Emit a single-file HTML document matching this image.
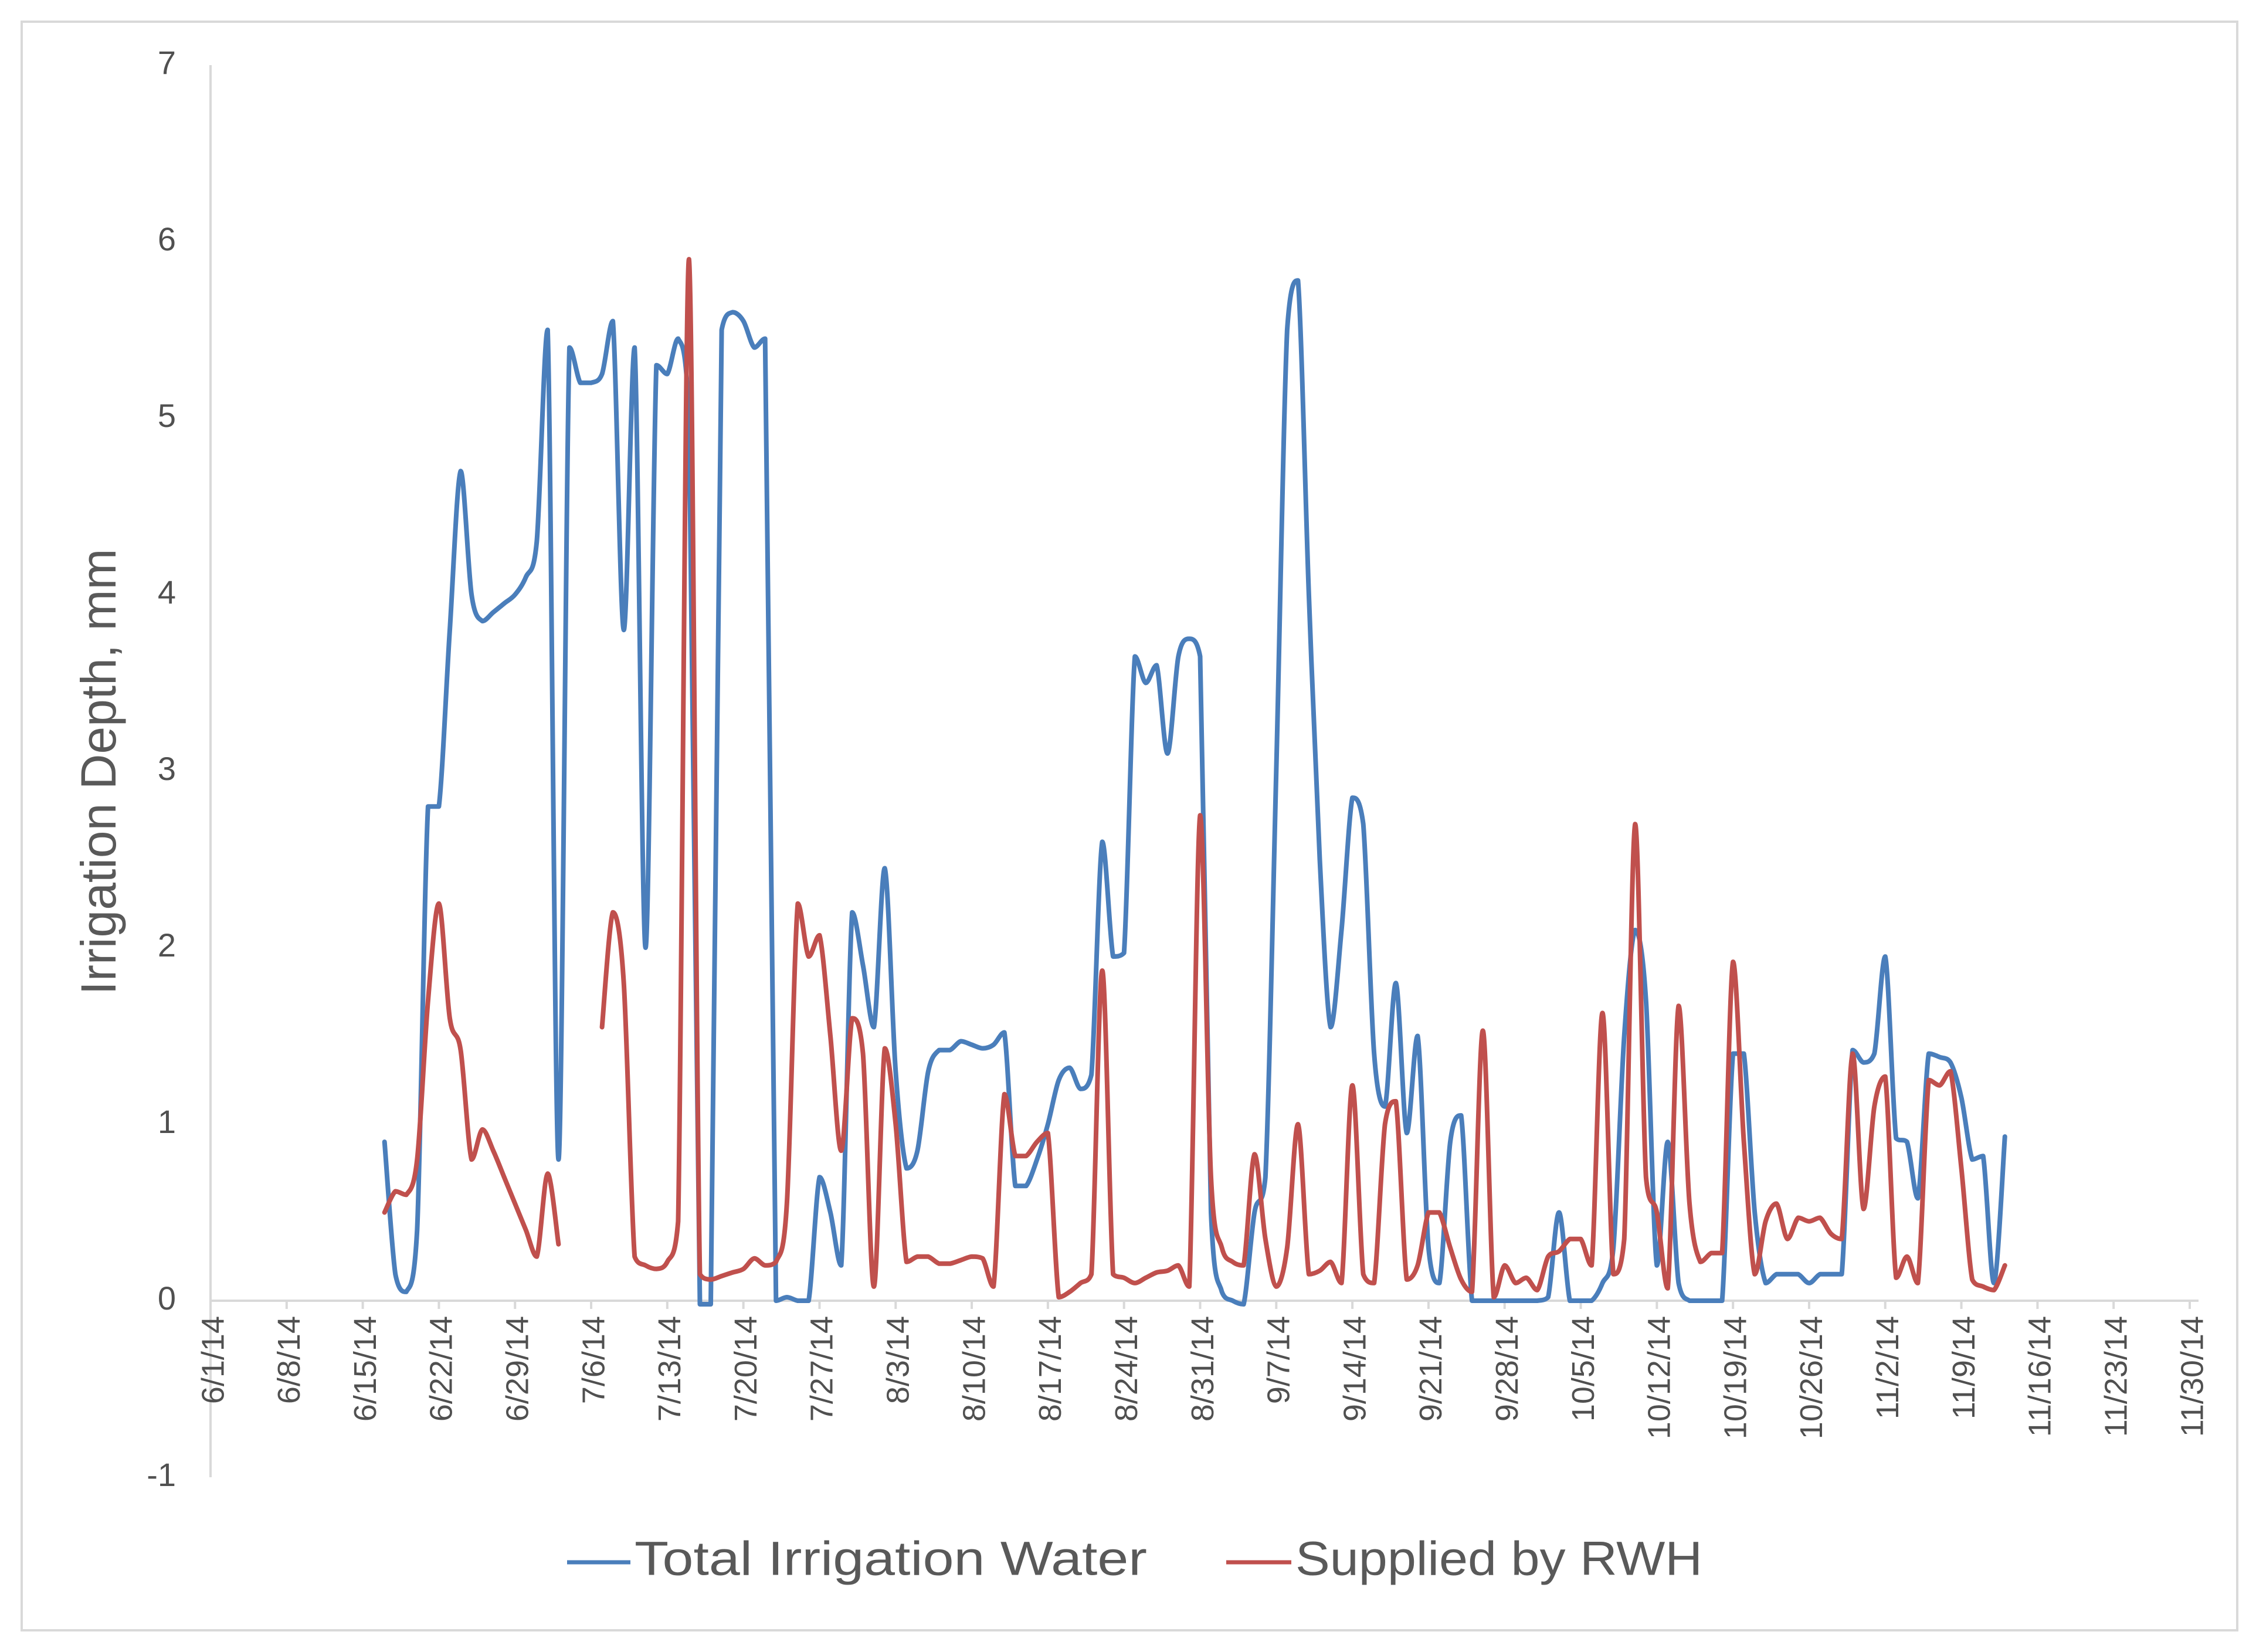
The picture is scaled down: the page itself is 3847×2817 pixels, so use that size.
<!DOCTYPE html>
<html><head><meta charset="utf-8"><style>
html,body{margin:0;padding:0;background:#fff;}
svg{display:block;font-family:"Liberation Sans",sans-serif;}
</style></head><body>
<svg id="chart" width="3847" height="2817" viewBox="0 0 3847 2817" xmlns="http://www.w3.org/2000/svg">
<rect x="37" y="37" width="3778" height="2743" fill="#fff" stroke="#d9d9d9" stroke-width="4"/>
<g id="axes"></g>
<g id="series"></g>
<text transform="translate(175,1316) rotate(-90)" text-anchor="middle" dominant-baseline="middle" font-size="84" fill="#595959">Irrigation Depth, mm</text>
<g>
<g>
<line x1="967" y1="2664" x2="1075" y2="2664" stroke="#4a7ebb" stroke-width="7"/>
<text x="1082" y="2664" dominant-baseline="middle" font-size="82" fill="#595959" textLength="874" lengthAdjust="spacingAndGlyphs">Total Irrigation Water</text>
</g>
<g>
<line x1="2091" y1="2664" x2="2202" y2="2664" stroke="#c0504d" stroke-width="7"/>
<text x="2209" y="2664" dominant-baseline="middle" font-size="82" fill="#595959" textLength="694" lengthAdjust="spacingAndGlyphs">Supplied by RWH</text>
</g>
</g>
</svg>
<script>
const startDay = 16;
const totalIrrigation = [0.9,0.15,0.05,0.4,2.8,2.8,3.8,4.7,4.0,3.85,3.9,3.95,4.0,4.1,4.3,5.5,0.8,5.4,5.2,5.2,5.25,5.55,3.8,5.4,2.0,5.3,5.25,5.45,5.0,-0.02,-0.02,5.5,5.6,5.55,5.4,5.45,0,0.02,0,0,0.7,0.5,0.2,2.2,1.9,1.55,2.45,1.3,0.75,0.85,1.3,1.42,1.42,1.47,1.45,1.43,1.45,1.52,0.65,0.65,0.8,1.0,1.25,1.32,1.2,1.28,2.6,1.95,1.97,3.65,3.5,3.6,3.1,3.65,3.75,3.65,0.5,0.05,0,-0.02,0.5,0.7,3.0,5.5,5.78,4.0,2.5,1.55,2.1,2.85,2.7,1.4,1.1,1.8,0.95,1.5,0.3,0.1,0.9,1.05,0,0,0,0,0,0,0,0.02,0.5,0,0,0,0.1,0.3,1.5,2.1,1.7,0.2,0.9,0.1,0,0,0,0,1.4,1.4,0.5,0.1,0.15,0.15,0.15,0.1,0.15,0.15,0.15,1.42,1.35,1.4,1.95,0.92,0.9,0.58,1.4,1.38,1.35,1.15,0.8,0.82,0.1,0.93];
const suppliedRWH = [0.5,0.62,0.6,0.8,1.7,2.25,1.6,1.42,0.8,0.97,0.85,0.7,0.55,0.4,0.25,0.72,0.32,null,null,null,1.55,2.2,1.8,0.25,0.2,0.18,0.22,0.45,5.9,0.15,0.12,0.14,0.16,0.18,0.24,0.2,0.22,0.55,2.25,1.95,2.07,1.5,0.85,1.6,1.4,0.08,1.43,1.0,0.22,0.25,0.25,0.21,0.21,0.23,0.25,0.24,0.08,1.17,0.82,0.82,0.9,0.95,0.02,0.05,0.1,0.15,1.87,0.15,0.13,0.1,0.13,0.16,0.17,0.2,0.08,2.75,0.7,0.3,0.22,0.2,0.83,0.35,0.08,0.3,1.0,0.15,0.17,0.22,0.1,1.22,0.15,0.1,1.0,1.13,0.12,0.2,0.5,0.5,0.3,0.12,0.05,1.53,0.02,0.2,0.1,0.13,0.06,0.25,0.28,0.35,0.35,0.2,1.63,0.15,0.35,2.7,0.7,0.5,0.07,1.67,0.55,0.22,0.27,0.27,1.92,0.9,0.15,0.45,0.55,0.35,0.47,0.45,0.47,0.38,0.35,1.4,0.52,1.1,1.27,0.13,0.25,0.1,1.25,1.22,1.3,0.75,0.12,0.08,0.06,0.2];
const yTicks = [-1,0,1,2,3,4,5,6,7];
const xTickLabels = ["6/1/14","6/8/14","6/15/14","6/22/14","6/29/14","7/6/14","7/13/14","7/20/14","7/27/14","8/3/14","8/10/14","8/17/14","8/24/14","8/31/14","9/7/14","9/14/14","9/21/14","9/28/14","10/5/14","10/12/14","10/19/14","10/26/14","11/2/14","11/9/14","11/16/14","11/23/14","11/30/14"];

const NS="http://www.w3.org/2000/svg";
const X0=359, X1=3734, XAXIS_END=3749, Y0v=2218, PX=301, DAYS=182;
function xs(d){return X0+(X1-X0)*d/DAYS;}
function ys(v){return Y0v-v*PX;}
const axes=document.getElementById('axes');
const series=document.getElementById('series');
function mk(tag,attrs,parent){const e=document.createElementNS(NS,tag);for(const k in attrs)e.setAttribute(k,attrs[k]);parent.appendChild(e);return e;}

const ya=mk('line',{x1:X0,y1:ys(7),x2:X0,y2:ys(-1),stroke:'#d9d9d9','stroke-width':4},axes);


const xa=mk('line',{x1:X0,y1:ys(0),x2:XAXIS_END,y2:ys(0),stroke:'#d9d9d9','stroke-width':4},axes);



yTicks.forEach(v=>{
  const t=mk('text',{x:300,y:ys(v),'text-anchor':'end','dominant-baseline':'middle','font-size':56,fill:'#505050'},axes);
  t.textContent=String(v);
  
  
});
xTickLabels.forEach((lab,i)=>{
  const x=xs(i*7);
  const tk=mk('line',{x1:x,y1:ys(0),x2:x,y2:ys(0)+14,stroke:'#d9d9d9','stroke-width':4},axes);
  
  
  const t=mk('text',{transform:`translate(${x+8},${ys(0)+26}) rotate(-90)`,'text-anchor':'end','dominant-baseline':'middle','font-size':54,fill:'#505050'},axes);
  t.textContent=lab;
  
  
});

function clamp(v,a,b){const lo=Math.min(a,b),hi=Math.max(a,b);return Math.max(lo,Math.min(hi,v));}
function smoothPath(vals){
  const segs=[];let cur=[];
  vals.forEach((v,i)=>{if(v===null){if(cur.length)segs.push(cur);cur=[];}else cur.push([xs(startDay+i),ys(v)]);});
  if(cur.length)segs.push(cur);
  let d='';
  segs.forEach(p=>{
    d+=`M${p[0][0].toFixed(1)},${p[0][1].toFixed(1)}`;
    for(let i=0;i<p.length-1;i++){
      const a=p[i-1]||p[i],b=p[i],c=p[i+1],e=p[i+2]||c;
      const t=0.16;
      const c1x=b[0]+(c[0]-a[0])*t,c1y=clamp(b[1]+(c[1]-a[1])*t,b[1],c[1]);
      const c2x=c[0]-(e[0]-b[0])*t,c2y=clamp(c[1]-(e[1]-b[1])*t,b[1],c[1]);
      d+=` C${c1x.toFixed(1)},${c1y.toFixed(1)} ${c2x.toFixed(1)},${c2y.toFixed(1)} ${c[0].toFixed(1)},${c[1].toFixed(1)}`;
    }
  });
  return d;
}
const pb=mk('path',{d:smoothPath(totalIrrigation),fill:'none',stroke:'#4a7ebb','stroke-width':8,'stroke-linejoin':'round','stroke-linecap':'round'},series);


const pr=mk('path',{d:smoothPath(suppliedRWH),fill:'none',stroke:'#c0504d','stroke-width':8,'stroke-linejoin':'round','stroke-linecap':'round'},series);


</script>
</body></html>
